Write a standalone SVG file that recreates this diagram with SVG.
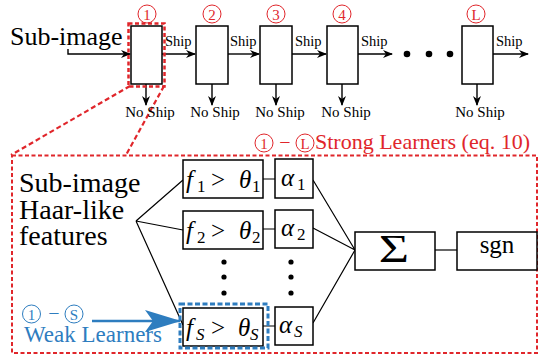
<svg xmlns="http://www.w3.org/2000/svg" width="539" height="360" viewBox="0 0 539 360">
<rect width="539" height="360" fill="#fff"/>

<g id="connectors" fill="none">
<g stroke="#000" stroke-width="1.4" marker-end="url(#ah)">
<path d="M68,49 V54 H130"/>
<path d="M162,54 H195"/>
<path d="M228,54 H259"/>
<path d="M292,54 H326"/>
<path d="M358,54 H392"/>
<path d="M493,54 H528"/>
<path d="M146,84 V105"/>
<path d="M212,84 V105"/>
<path d="M276,84 V105"/>
<path d="M342,84 V105"/>
<path d="M477,84 V105"/>
</g>
<g stroke="#000" stroke-width="1.2">
<path d="M136,221 L183,180 M136,221 L183,230 M136,221 L183,325"/>
<path d="M263,179 H275 M263,229 H275 M263,326 H275"/>
<path d="M313,180 L355,250 M313,228 L355,250 M313,323 L355,250"/>
<path d="M435,250 H457"/>
</g>
<path d="M130,86 L11,155 M164,86 L126,155" stroke="#e0262b" stroke-width="2.2" stroke-dasharray="5,3"/>
<path d="M92,321 H180" stroke="#2e7dbf" stroke-width="2.5" marker-end="url(#bh)"/>
</g>

<g id="dots">
<circle cx="407" cy="54" r="3.3"/>
<circle cx="429" cy="54" r="3.3"/>
<circle cx="450" cy="54" r="3.3"/>
<circle cx="224" cy="262" r="2.6"/>
<circle cx="224" cy="277" r="2.6"/>
<circle cx="224" cy="293" r="2.6"/>
<circle cx="291" cy="262" r="2.6"/>
<circle cx="291" cy="277" r="2.6"/>
<circle cx="291" cy="293" r="2.6"/>
</g>

<g id="input-label"><text x="10" y="45" font-family="Liberation Serif" font-size="26">Sub-image</text></g>

<g id="stage1">
<rect x="131" y="26" width="31" height="58" fill="#fff" stroke="#000" stroke-width="1.5"/>
<rect x="128.5" y="23.5" width="36" height="63" fill="none" stroke="#e0262b" stroke-width="2.5" stroke-dasharray="4,2.5"/>
<circle cx="147" cy="14" r="9" fill="none" stroke="#e0262b"/><text fill="#e0262b" x="147" y="19.5" font-family="Liberation Serif" font-size="15" text-anchor="middle">1</text>
</g>
<g id="stage2">
<rect x="196" y="26" width="32" height="58" fill="#fff" stroke="#000" stroke-width="1.5"/>
<circle cx="212" cy="14" r="9" fill="none" stroke="#e0262b"/><text fill="#e0262b" x="212" y="19.5" font-family="Liberation Serif" font-size="15" text-anchor="middle">2</text>
</g>
<g id="stage3">
<rect x="260" y="26" width="32" height="58" fill="#fff" stroke="#000" stroke-width="1.5"/>
<circle cx="276" cy="14" r="9" fill="none" stroke="#e0262b"/><text fill="#e0262b" x="276" y="19.5" font-family="Liberation Serif" font-size="15" text-anchor="middle">3</text>
</g>
<g id="stage4">
<rect x="327" y="26" width="31" height="58" fill="#fff" stroke="#000" stroke-width="1.5"/>
<circle cx="342" cy="14" r="9" fill="none" stroke="#e0262b"/><text fill="#e0262b" x="342" y="19.5" font-family="Liberation Serif" font-size="15" text-anchor="middle">4</text>
</g>
<g id="stageL">
<rect x="462" y="26" width="31" height="58" fill="#fff" stroke="#000" stroke-width="1.5"/>
<circle cx="476" cy="14" r="9" fill="none" stroke="#e0262b"/><text fill="#e0262b" x="476" y="19.5" font-family="Liberation Serif" font-size="15" text-anchor="middle">L</text>
</g>

<g id="ship-labels">
<text font-family="Liberation Serif" font-size="14.5" x="165" y="46">Ship</text>
<text font-family="Liberation Serif" font-size="14.5" x="230" y="46">Ship</text>
<text font-family="Liberation Serif" font-size="14.5" x="295" y="46">Ship</text>
<text font-family="Liberation Serif" font-size="14.5" x="361" y="46">Ship</text>
<text font-family="Liberation Serif" font-size="14.5" x="496" y="46">Ship</text>
<text font-family="Liberation Serif" font-size="15" x="150" y="117" text-anchor="middle">No Ship</text>
<text font-family="Liberation Serif" font-size="15" x="215" y="117" text-anchor="middle">No Ship</text>
<text font-family="Liberation Serif" font-size="15" x="280" y="117" text-anchor="middle">No Ship</text>
<text font-family="Liberation Serif" font-size="15" x="346" y="117" text-anchor="middle">No Ship</text>
<text font-family="Liberation Serif" font-size="15" x="480" y="117" text-anchor="middle">No Ship</text>
</g>

<g id="strong-learner">
<rect x="12" y="155.5" width="525" height="197.5" fill="none" stroke="#e0262b" stroke-width="2" stroke-dasharray="4,2.5"/>
<circle cx="264" cy="143" r="9" fill="none" stroke="#e0262b"/><text fill="#e0262b" x="264" y="148.5" font-family="Liberation Serif" font-size="15" text-anchor="middle">1</text>
<text fill="#e0262b" x="285" y="149" font-family="Liberation Serif" font-size="20" text-anchor="middle">−</text>
<circle cx="305" cy="143" r="9" fill="none" stroke="#e0262b"/><text fill="#e0262b" x="305" y="148.5" font-family="Liberation Serif" font-size="15" text-anchor="middle">L</text>
<text fill="#e0262b" x="315" y="149" font-family="Liberation Serif" font-size="22">Strong Learners (eq. 10)</text>
</g>

<g id="features-label">
<text x="19" y="192" font-family="Liberation Serif" font-size="28">Sub-image</text>
<text x="19" y="219" font-family="Liberation Serif" font-size="28">Haar-like</text>
<text x="19" y="245" font-family="Liberation Serif" font-size="28">features</text>
</g>

<g id="weak1">
<rect x="183" y="160" width="80" height="38" fill="#fff" stroke="#000" stroke-width="1.5"/>
<text x="186" y="188" font-family="Liberation Serif" font-size="25"><tspan font-style="italic">f</tspan><tspan font-size="17" x="197" y="192">1</tspan><tspan x="211" y="188">&gt;</tspan><tspan font-style="italic" x="239">θ</tspan><tspan font-size="17" x="252" y="192">1</tspan></text>
</g>
<g id="weak2">
<rect x="183" y="211" width="80" height="38" fill="#fff" stroke="#000" stroke-width="1.5"/>
<text x="186" y="239" font-family="Liberation Serif" font-size="25"><tspan font-style="italic">f</tspan><tspan font-size="17" x="197" y="243">2</tspan><tspan x="211" y="239">&gt;</tspan><tspan font-style="italic" x="239">θ</tspan><tspan font-size="17" x="252" y="243">2</tspan></text>
</g>
<g id="weakS">
<rect x="183" y="308" width="80" height="38" fill="#fff" stroke="#000" stroke-width="1.5"/>
<rect x="180" y="304" width="88" height="44" fill="none" stroke="#2e7dbf" stroke-width="3" stroke-dasharray="5,2.5"/>
<text x="186" y="336" font-family="Liberation Serif" font-size="25"><tspan font-style="italic">f</tspan><tspan font-size="17" font-style="italic" x="196" y="340">S</tspan><tspan x="211" y="336">&gt;</tspan><tspan font-style="italic" x="238">θ</tspan><tspan font-size="17" font-style="italic" x="250" y="340">S</tspan></text>
</g>

<g id="alpha1"><rect x="275" y="159" width="38" height="39" fill="#fff" stroke="#000" stroke-width="1.5"/><text x="281" y="186" font-family="Liberation Serif" font-size="25"><tspan font-style="italic">α</tspan><tspan font-size="17" x="297" y="190">1</tspan></text></g>
<g id="alpha2"><rect x="275" y="210" width="38" height="38" fill="#fff" stroke="#000" stroke-width="1.5"/><text x="281" y="236" font-family="Liberation Serif" font-size="25"><tspan font-style="italic">α</tspan><tspan font-size="17" x="297" y="240">2</tspan></text></g>
<g id="alphaS"><rect x="275" y="307" width="38" height="38" fill="#fff" stroke="#000" stroke-width="1.5"/><text x="279" y="333" font-family="Liberation Serif" font-size="25"><tspan font-style="italic">α</tspan><tspan font-size="17" font-style="italic" x="294" y="337">S</tspan></text></g>

<g id="sum"><rect x="355" y="232" width="80" height="38" fill="#fff" stroke="#000" stroke-width="1.5"/><text x="0" y="0" font-family="Liberation Serif" font-size="40" text-anchor="middle" transform="translate(394,262) scale(1.3,1)">Σ</text></g>
<g id="sgn"><rect x="457" y="232" width="80" height="38" fill="#fff" stroke="#000" stroke-width="1.5"/><text x="497" y="253" font-family="Liberation Serif" font-size="25" text-anchor="middle">sgn</text></g>

<g id="weak-label">
<circle cx="31.5" cy="314" r="9" fill="none" stroke="#2e7dbf"/><text fill="#2e7dbf" x="31.5" y="319.5" font-family="Liberation Serif" font-size="15" text-anchor="middle">1</text>
<text fill="#2e7dbf" x="54" y="320" font-family="Liberation Serif" font-size="20" text-anchor="middle">−</text>
<circle cx="74" cy="314" r="9" fill="none" stroke="#2e7dbf"/><text fill="#2e7dbf" x="74" y="319.5" font-family="Liberation Serif" font-size="15" text-anchor="middle">S</text>
<text fill="#2e7dbf" x="24" y="342" font-family="Liberation Serif" font-size="23">Weak Learners</text>
</g>

<defs>
<marker id="ah" markerWidth="10" markerHeight="8" refX="9" refY="4" orient="auto" markerUnits="userSpaceOnUse">
<path d="M0,0 L10,4 L0,8 L3,4 Z" fill="#000"/>
</marker>
<marker id="bh" markerWidth="36" markerHeight="22" refX="35" refY="11" orient="auto" markerUnits="userSpaceOnUse">
<path d="M0,0 L36,11 L0,22 L8,11 Z" fill="#2e7dbf"/>
</marker>
</defs>
</svg>
